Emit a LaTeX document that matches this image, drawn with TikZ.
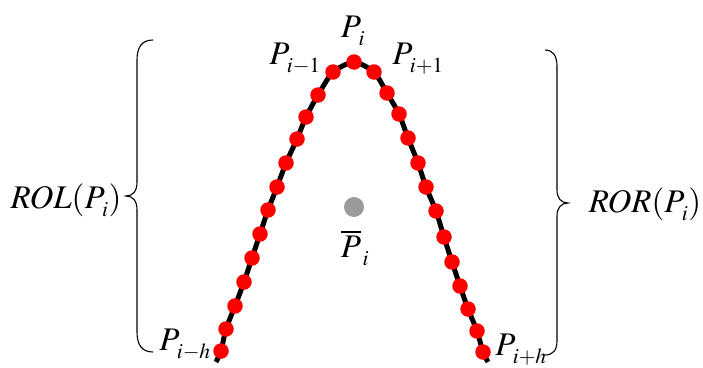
\documentclass[tikz,border=0pt]{standalone}
\usepackage{mathptmx}
\usepackage{graphicx}
\definecolor{dotred}{RGB}{255,0,0}
\definecolor{meangray}{RGB}{155,155,155}
\newcommand\lsb[1]{_{\kern1.5pt\raisebox{-3pt}{\scalebox{0.88}{$\scriptstyle #1$}}}}
\begin{document}
\begin{tikzpicture}[x=1pt,y=-1pt,
  lbl/.style={inner sep=0pt,font=\fontsize{33}{33}\selectfont},
  reddot/.style={circle,fill=dotred,minimum size=15.5pt,inner sep=0pt},
  meandot/.style={circle,fill=meangray,minimum size=20pt,inner sep=0pt},
  ridge/.style={line width=5pt,black},
  bracestyle/.style={line width=1.1pt,black}]
\useasboundingbox (0,0) rectangle (703,367);
% dot positions
\coordinate (A) at (354,62);
\coordinate (endL) at (216,362);
\coordinate (endR) at (488,362);
\foreach \n/\x/\y in {1/333/72,2/318/95,3/306/117,4/297/139,5/286/163,6/277/187,7/268/210,8/260/234,9/252/258,10/244/282,11/235/306,12/226/329,13/221/351}
  \coordinate (L\n) at (\x,\y);
\foreach \n/\x/\y in {1/374/72,2/387/93,3/399/114,4/408/138,5/418/163,6/426/187,7/436/211,8/444/237,9/452/262,10/460/286,11/468/309,12/477/331,13/483/352}
  \coordinate (R\n) at (\x,\y);
% ridge line
\draw[ridge] plot[smooth,tension=0.4] coordinates {(endL) (L13) (L12) (L11) (L10) (L9) (L8) (L7) (L6) (L5) (L4) (L3) (L2) (L1) (A) (R1) (R2) (R3) (R4) (R5) (R6) (R7) (R8) (R9) (R10) (R11) (R12) (R13) (endR)};
% dots
\node[reddot] (dA) at (A) {};
\foreach \n in {1,...,13} {
  \node[reddot] (dL\n) at (L\n) {};
  \node[reddot] (dR\n) at (R\n) {};
}
\node[meandot] (mean) at (354,207) {};
% labels
\node[lbl] (tPi) at (353,31) {$P\lsb{i}$};
\node[lbl] (tPim) at (295,59) {$P\lsb{i-1}$};
\node[lbl] (tPip) at (418,59) {$P\lsb{i+1}$};
\node[lbl] (tPih) at (185,345) {$P\lsb{i-h}$};
\node[lbl] (tPiph) at (521,350) {$P\lsb{i+h}$};
\node[lbl] (tmean) at (355,248) {$\overline{P}\lsb{i}$};
\node[lbl] (tROL) at (66,200) {$ROL(P\lsb{i})$};
\node[lbl] (tROR) at (645,204) {$ROR(P\lsb{i})$};
% braces
\draw[bracestyle] (153,40) .. controls (142,40) and (137,47) .. (137,60) -- (137,182)
  .. controls (137,191) and (133,196) .. (126,196)
  .. controls (133,196) and (137,201) .. (137,210) -- (137,332)
  .. controls (137,345) and (142,352) .. (153,352);
\draw[bracestyle] (545,50) .. controls (553,50) and (557,56) .. (557,66) -- (557,190)
  .. controls (557,198) and (561,203) .. (568,203)
  .. controls (561,203) and (557,208) .. (557,216) -- (557,341)
  .. controls (557,350) and (553,355) .. (545,355);
\end{tikzpicture}
\end{document}
